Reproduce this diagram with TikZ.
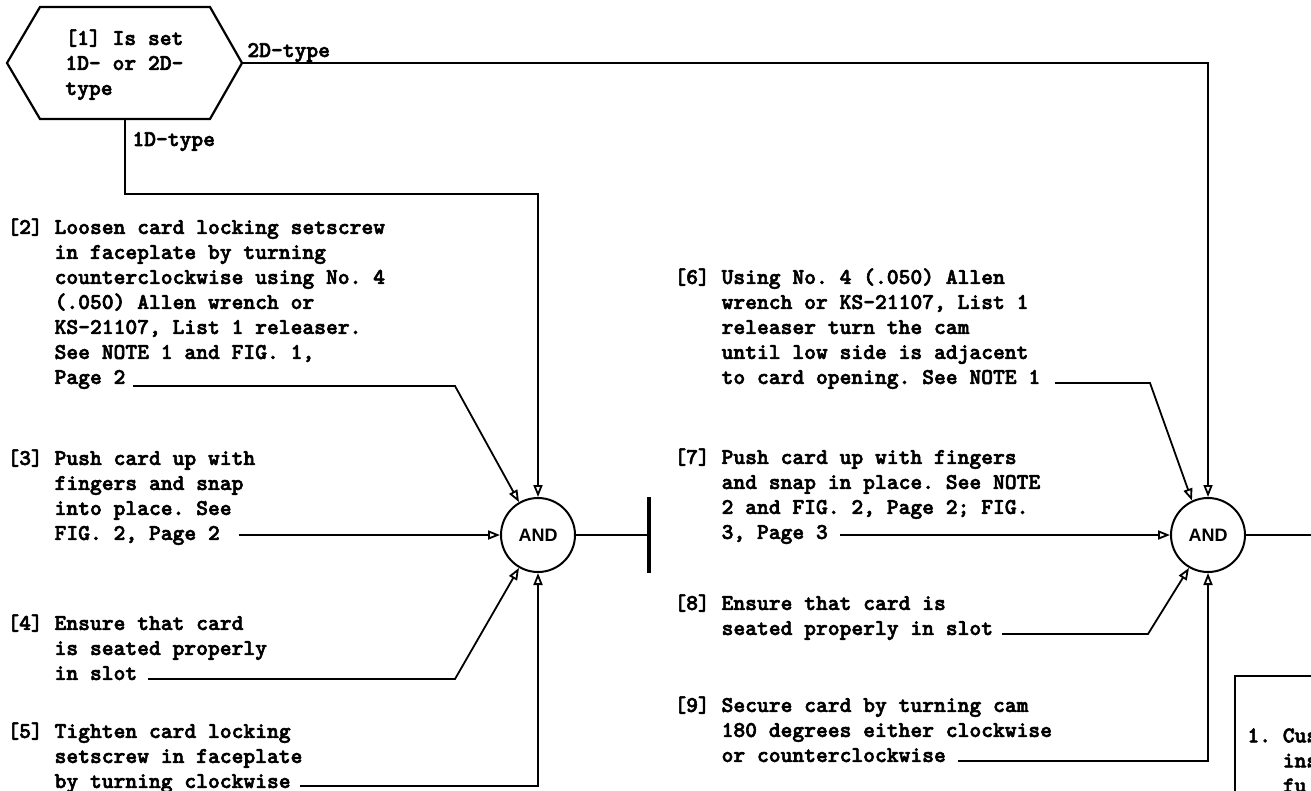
\documentclass[tikz,border=0pt]{standalone}
\usepackage{fontspec}
\usepackage{tikz}
\usetikzlibrary{arrows.meta,calc,positioning}
\newfontfamily\typer{lmmonolt10-bold.otf}[FakeBold=2.5]
\newfontfamily\gatesans{Liberation Sans}
\newcommand\stepfont{\typer\fontsize{11.24}{12.5}\selectfont\frenchspacing}
\newcommand\gatefont{\gatesans\bfseries\fontsize{9}{10}\selectfont}
\newcommand\hang{\hphantom{[0]\ }}

\begin{document}
\begin{tikzpicture}[x=0.5pt,y=-0.5pt,
  conn/.style={line width=0.9pt},
  arr/.style={conn,-{Triangle[open,length=6pt,width=4.5pt]}},
  stepbox/.style={anchor=north west,inner sep=0pt,align=left,font=\stepfont},
  lbl/.style={anchor=base west,inner sep=0pt,font=\stepfont},
  gate/.style={circle,draw,line width=1pt,minimum size=37pt,inner sep=0pt,font=\gatefont}]
  \useasboundingbox (0,0) rectangle (1311,791);
  % decision
  \draw[line width=1.1pt] (7,63) -- (40,7) -- (210,7) -- (242,63) -- (210,119) -- (40,119) -- cycle;
  \coordinate (q1e) at (242,63); \coordinate (q1s) at (125,119);
  \node[stepbox] (q1) at (65,29) {[1] Is set\\1D- or 2D-\\type};
  \node[lbl] (l2d) at (247,57) {2D-type}; \node[lbl] (l1d) at (132,146) {1D-type};
  % gates
  \node[gate] (a1) at (538,535) {AND}; \node[gate] (a2) at (1208,535) {AND};
  \coordinate (bar) at (649,535); \coordinate (out) at (1311,535);
  \draw[line width=2pt] (649,497) -- (649,573);
  \draw[conn] (a1) -- (bar); \draw[conn] (a2) -- (out);
  % steps
  \node[stepbox] (s2) at (7,218) {[2] Loosen card locking setscrew\\\hang in faceplate by turning\\\hang counterclockwise using No. 4\\\hang (.050) Allen wrench or\\\hang KS-21107, List 1 releaser.\\\hang See NOTE 1 and FIG. 1,\\\hang Page 2};
  \node[stepbox] (s3) at (7,449) {[3] Push card up with\\\hang fingers and snap\\\hang into place. See\\\hang FIG. 2, Page 2};
  \node[stepbox] (s4) at (7,614) {[4] Ensure that card\\\hang is seated properly\\\hang in slot};
  \node[stepbox] (s5) at (7,722) {[5] Tighten card locking\\\hang setscrew in faceplate\\\hang by turning clockwise};
  \node[stepbox] (s6) at (674,268) {[6] Using No. 4 (.050) Allen\\\hang wrench or KS-21107, List 1\\\hang releaser turn the cam\\\hang until low side is adjacent\\\hang to card opening. See NOTE 1};
  \node[stepbox] (s7) at (674,448) {[7] Push card up with fingers\\\hang and snap in place. See NOTE\\\hang 2 and FIG. 2, Page 2; FIG.\\\hang 3, Page 3};
  \node[stepbox] (s8) at (674,594) {[8] Ensure that card is\\\hang seated properly in slot};
  \node[stepbox] (s9) at (674,696) {[9] Secure card by turning cam\\\hang 180 degrees either clockwise\\\hang or counterclockwise};
  % leader ends
  \coordinate (u2) at (133,386); \coordinate (u3) at (239,535); \coordinate (u4) at (148,679);
  \coordinate (u5) at (300,786); \coordinate (u6) at (1055,383); \coordinate (u7) at (840,535);
  \coordinate (u8) at (1002,634); \coordinate (u9) at (958,761);
  \draw[arr] (q1s) -- (125,194) -| (a1.north);
  \draw[arr] (q1e) -| (a2.north);
  \draw[arr] (u2) -- (455,386) -- (a1.120);
  \draw[arr] (u3) -- (a1.west);
  \draw[arr] (u4) -- (455,679) -- (a1.240);
  \draw[arr] (u5) -| (a1.south);
  \draw[arr] (u6) -- (1150,383) -- (a2.115);
  \draw[arr] (u7) -- (a2.west);
  \draw[arr] (u8) -- (1148,634) -- (a2.240);
  \draw[arr] (u9) -| (a2.south);
  % note
  \draw[conn] (1340,676) -- (1235,676) -- (1235,820);
  \node[stepbox] (n1) at (1247,728) {1. Cus\\\hphantom{1. }ins\\\hphantom{1. }fu};
\end{tikzpicture}
\end{document}
